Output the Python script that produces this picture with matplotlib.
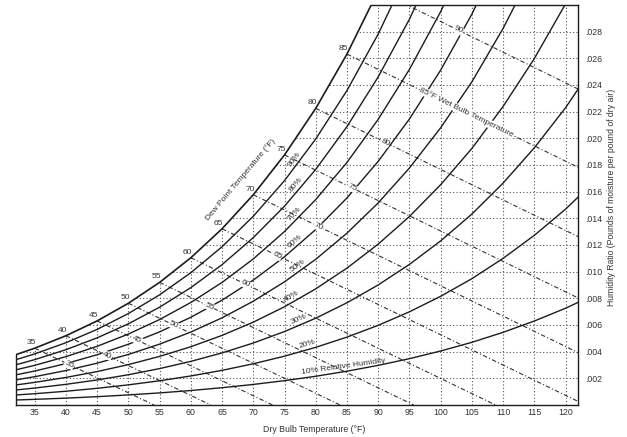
import numpy as np
import matplotlib
matplotlib.use("Agg")
import matplotlib.pyplot as plt
from matplotlib.patches import Polygon

# dry bulb temperature (F) and saturation pressure of water vapour (psia)
db = [32, 35, 40, 45, 50, 55, 60, 65, 70, 75, 80, 85, 90, 95, 100, 105, 110, 115, 120, 125]
p_sat = [0.08871, 0.09998, 0.12173, 0.14756, 0.17812, 0.21413, 0.25638, 0.30578, 0.36334,
         0.43016, 0.50745, 0.59659, 0.69904, 0.81643, 0.95052, 1.1022, 1.27647, 1.4730,
         1.69475, 1.9480]
p_atm = 14.696

rh_levels = [10, 20, 30, 40, 50, 60, 70, 80, 90]
rh_label_db = [77.8, 78.8, 77.5, 76.4, 77.5, 77.0, 77.0, 77.3, 77.0]

sat_labels = [35, 40, 45, 50, 55, 60, 65, 70, 75, 80, 85]

wb_temps = [35, 40, 45, 50, 55, 60, 65, 70, 75, 80, 85, 90]
wb_end_db = [54.1, 63.2, 73.1, 83.9, 95.7, 108.8, 123.2, 139.3, 157.2, 177.2, 199.7, 225.0]
wb_label_db = [40.5, 46.6, 51.4, 57.2, 63.0, 68.7, 73.8, 80.4, 85.8, 91.1, 96.7, 102.8]

x_ticks = list(range(35, 125, 5))
y_ticks = [0.002, 0.004, 0.006, 0.008, 0.010, 0.012, 0.014,
           0.016, 0.018, 0.020, 0.022, 0.024, 0.026, 0.028]
y_ticklabels = ['.002', '.004', '.006', '.008', '.010', '.012', '.014',
                '.016', '.018', '.020', '.022', '.024', '.026', '.028']

plt.rcParams['font.family'] = ['Liberation Sans', 'DejaVu Sans']

T = np.array(db, dtype=float)
ps = np.array(p_sat)


def w_of(phi):
    # humidity ratio along a relative humidity curve
    return 0.622 * phi * ps / (p_atm - phi * ps)


ws = w_of(1.0)

fig = plt.figure(figsize=(6.27, 4.37), dpi=100)
ax = fig.add_axes([16 / 627, 32 / 437, 562 / 627, 400 / 437])
ax.set_xlim(32, 122)
ax.set_ylim(0, 0.030)

# area under the saturation curve, used to clip grid and wet bulb lines
region = Polygon(np.column_stack([np.r_[32, T, 125], np.r_[0, ws, 0]]),
                 closed=True, transform=ax.transData)

ink = '#1c1c1c'
grid_kw = dict(colors='#555555', linestyles=(0, (1, 2)), lw=0.8)
vl = ax.vlines(x_ticks, 0, 0.03, **grid_kw)
vl.set_clip_path(region)
hl = ax.hlines(y_ticks, 32, 122, **grid_kw)
hl.set_clip_path(region)

# wet bulb lines
for t, tend, tl in zip(wb_temps, wb_end_db, wb_label_db):
    w0 = ws[db.index(t)] if t in db else 0.622 * 0.69904 / (p_atm - 0.69904)
    ln, = ax.plot([t, tend], [w0, 0], color='#333333', lw=0.8, ls=(0, (4, 2, 1, 2)))
    ln.set_clip_path(region)
    p1 = ax.transData.transform((t, w0))
    p2 = ax.transData.transform((tend, 0))
    ang = np.degrees(np.arctan2(p2[1] - p1[1], p2[0] - p1[0]))
    wl = w0 * (tend - tl) / (tend - t)
    if t == 85:
        ax.text(tl, wl, '85°F Wet Bulb Temperature', fontsize=6, color='#333333',
                rotation=ang, rotation_mode='anchor', ha='left', va='center',
                bbox=dict(fc='white', ec='none', pad=0.3))
    else:
        ax.text(tl, wl, str(t), fontsize=6, color='#333333', rotation=ang,
                rotation_mode='anchor', ha='center', va='center',
                bbox=dict(fc='white', ec='none', pad=0.3))

# relative humidity curves
for rh, tl in zip(rh_levels, rh_label_db):
    w = w_of(rh / 100)
    ax.plot(T, w, color=ink, lw=1.0)
    wa = np.interp(tl - 2, T, w)
    wb = np.interp(tl + 2, T, w)
    p1 = ax.transData.transform((tl - 2, wa))
    p2 = ax.transData.transform((tl + 2, wb))
    ang = np.degrees(np.arctan2(p2[1] - p1[1], p2[0] - p1[0]))
    txt = '10% Relative Humidity' if rh == 10 else f'{rh}%'
    ax.annotate(txt, (tl, np.interp(tl, T, w)), xytext=(0, 1.5), textcoords='offset points',
                fontsize=6, color='#333333', rotation=ang, rotation_mode='anchor',
                ha='left' if rh == 10 else 'center', va='bottom')

# saturation curve
ax.plot(T, ws, color=ink, lw=1.2)
for t in sat_labels:
    ax.annotate(str(t), (t, ws[db.index(t)]), xytext=(-2.5, 1.5), textcoords='offset points',
                fontsize=6, color='#333333', ha='center', va='bottom')

ax.text(67.9, 0.0169, 'Dew Point Temperature (°F)', fontsize=6, color='#333333',
        rotation=50, ha='center', va='center')

t_cross = np.interp(0.030, ws, T)
ax.spines['top'].set_bounds(t_cross, 122)
ax.spines['left'].set_bounds(0, ws[0])
for s in ax.spines.values():
    s.set_color(ink)
    s.set_linewidth(1.0)

ax.set_xticks(x_ticks)
ax.yaxis.tick_right()
ax.set_yticks(y_ticks)
ax.set_yticklabels(y_ticklabels)
ax.tick_params(axis='x', length=0, labelsize=6.3, colors='#333333', pad=2)
ax.tick_params(axis='y', length=0, labelsize=6.3, colors='#333333', pad=5)

fig.text(314 / 627, 1 - 430 / 437, 'Dry Bulb Temperature (°F)', fontsize=6.3,
         color='#333333', ha='center', va='center')
fig.text(611 / 627, 1 - 197 / 437, 'Humidity Ratio (Pounds of moisture per pound of dry air)',
         fontsize=6.2, color='#333333', rotation=90, ha='center', va='center')

fig.savefig('out.png', dpi=100)
